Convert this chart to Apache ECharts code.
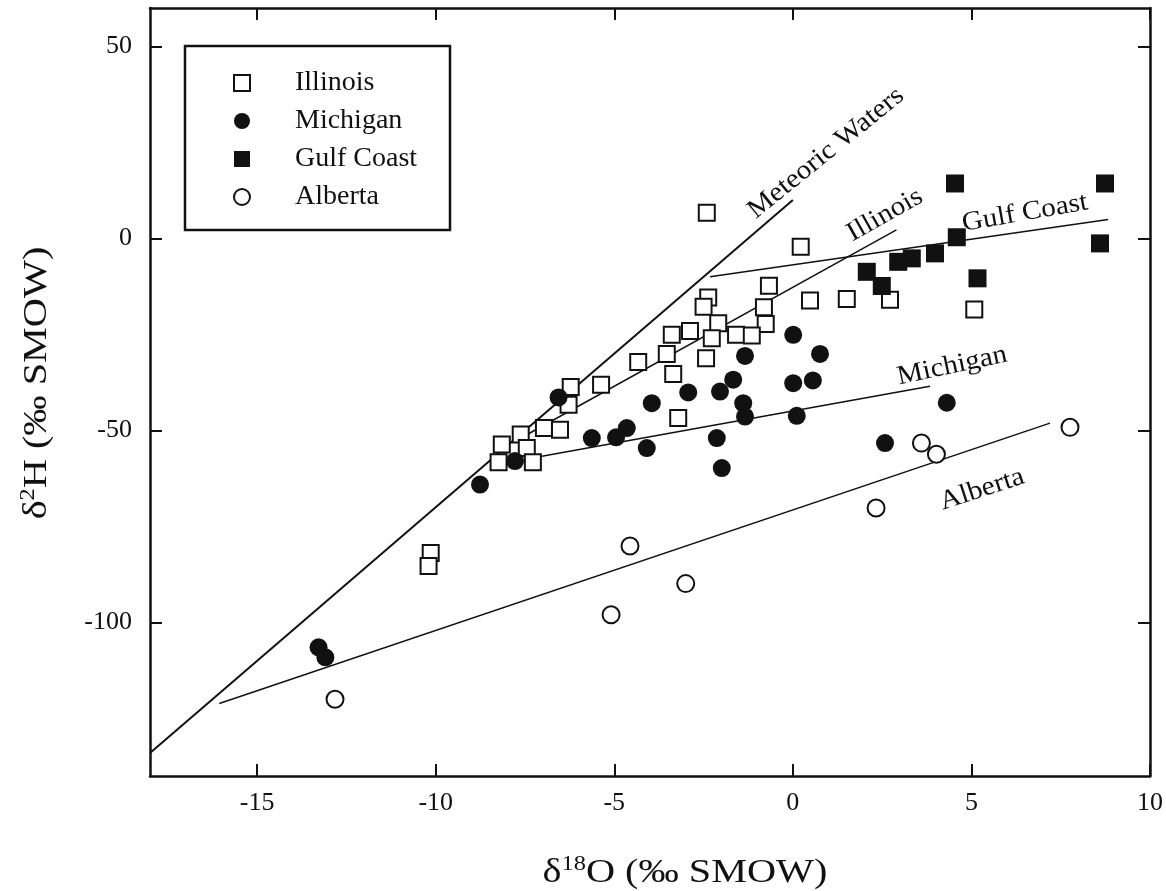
<!DOCTYPE html>
<html>
<head>
<meta charset="utf-8">
<script src="https://cdn.jsdelivr.net/npm/echarts@6/dist/echarts.min.js"></script>
<style>html,body{margin:0;padding:0;background:#fff;}#main{width:1166px;height:891px;}</style>
</head>
<body>
<div id="main"></div>
<script>
// ---- data ----
const xTicks = [-15, -10, -5, 0, 5, 10];
const yTicks = [-100, -50, 0, 50];

const illinois = [
  [-2.41, 6.7], [0.22, -2.2], [-0.67, -12.3], [-2.37, -15.4], [-2.5, -17.8],
  [0.48, -16.2], [1.51, -15.8], [2.72, -16.0], [-0.81, -17.9], [-2.09, -22.1],
  [-0.76, -22.3], [-2.88, -24.1], [-3.39, -25.1], [-2.27, -26.0], [-1.59, -25.1],
  [-1.15, -25.3], [-3.53, -30.1], [-4.33, -32.2], [-2.43, -31.2], [-3.35, -35.3],
  [-3.21, -46.8], [-5.37, -38.1], [-6.22, -38.7], [-6.28, -43.3], [-6.97, -49.4],
  [-6.52, -49.8], [-7.62, -51.1], [-8.15, -53.7], [-7.45, -54.6], [-8.24, -58.3],
  [-7.28, -58.3], [-10.14, -81.9], [-10.2, -85.3], [5.08, -18.5]
];
const michigan = [
  [0.01, -25.1], [0.76, -30.1], [-1.34, -30.6], [-1.67, -36.8], [-2.04, -39.9],
  [0.01, -37.7], [0.56, -37.0], [-2.93, -40.1], [-3.95, -42.9], [-1.39, -42.9],
  [-1.34, -46.4], [0.11, -46.2], [-2.13, -52.0], [-4.09, -54.6], [-1.99, -59.8],
  [2.58, -53.3], [4.31, -42.8], [-6.56, -41.4], [-5.63, -52.0], [-4.95, -51.8],
  [-4.65, -49.4], [-7.78, -58.0], [-8.76, -64.1], [-13.28, -106.5], [-13.09, -109.1]
];
const gulfCoast = [
  [2.07, -8.7], [2.49, -12.4], [2.95, -6.1], [3.33, -5.2], [3.98, -3.9],
  [4.59, 0.3], [4.54, 14.3], [8.74, 14.3], [8.6, -1.3], [5.17, -10.4]
];
const alberta = [
  [-12.82, -120.0], [-5.09, -98.0], [-4.56, -80.1], [-3.0, -89.9],
  [2.33, -70.2], [3.6, -53.3], [4.02, -56.2], [7.76, -49.2]
];

// regression / reference lines (end points)
const meteoricLine = [[-18, -134], [0, 10]];
const illinoisLine = [[-7.5, -51.4], [2.9, 2.2]];
const gulfLine = [[-2.32, -10.0], [8.83, 4.9]];
const michiganLine = [[-7.3, -57.2], [3.84, -38.5]];
const albertaLine = [[-16.06, -121.1], [7.2, -48.1]];

// line labels: text, anchor (data coords), angle in degrees
const lineLabels = [
  ['Meteoric Waters', [0.93, 22.2], 39],
  ['Illinois', [2.58, 6.1], 29.5],
  ['Gulf Coast', [6.5, 6.6], 10],
  ['Michigan', [4.46, -33.2], 12],
  ['Alberta', [5.3, -65.4], 18]
];

// ---- chart ----
const FONT = 'Liberation Serif';
const INK = '#111';
const chart = echarts.init(document.getElementById('main'));

function axisCommon(ticks) {
  return {
    type: 'value',
    axisLine: { show: true, onZero: false, lineStyle: { color: INK, width: 2.5 } },
    axisTick: { show: true, inside: true, length: 12, lineStyle: { color: INK, width: 2 }, customValues: ticks },
    splitLine: { show: false }
  };
}

const lineSeries = (name, data, width) => ({
  name: name, type: 'line', data: data, symbol: 'none', silent: true,
  lineStyle: { color: INK, width: width }, z: 2
});

const openStyle = { color: '#fff', borderColor: INK, borderWidth: 2, opacity: 1 };
const fillStyle = { color: INK, opacity: 1 };
const squarePath = 'path://M0,0H10V10H0Z';

chart.setOption({
  animation: false,
  backgroundColor: '#fff',
  grid: { left: 150, right: 16, top: 8, bottom: 115 },
  xAxis: [
    Object.assign(axisCommon(xTicks), {
      min: -18, max: 10, position: 'bottom',
      axisLabel: { customValues: xTicks, fontFamily: FONT, fontSize: 26, color: INK, margin: 14 }
    }),
    Object.assign(axisCommon(xTicks), {
      min: -18, max: 10, position: 'top', axisLabel: { show: false }
    })
  ],
  yAxis: [
    Object.assign(axisCommon(yTicks), {
      min: -140, max: 60, position: 'left',
      axisLabel: { customValues: yTicks, fontFamily: FONT, fontSize: 26, color: INK, margin: 18 }
    }),
    Object.assign(axisCommon(yTicks), {
      min: -140, max: 60, position: 'right', axisLabel: { show: false }
    })
  ],
  legend: {
    orient: 'vertical', left: 233, top: 69, padding: 0, z: 6,
    itemWidth: 96, itemHeight: 16, itemGap: 10, selectedMode: false,
    textStyle: { fontFamily: FONT, fontSize: 28, color: INK, lineHeight: 26 },
    data: [
      { name: 'Illinois', icon: squarePath },
      { name: 'Michigan', icon: 'circle' },
      { name: 'Gulf Coast', icon: squarePath },
      { name: 'Alberta', icon: 'circle' }
    ]
  },
  series: [
    lineSeries('Meteoric Waters line', meteoricLine, 2),
    lineSeries('Illinois line', illinoisLine, 1.5),
    lineSeries('Gulf Coast line', gulfLine, 1.5),
    lineSeries('Michigan line', michiganLine, 1.5),
    lineSeries('Alberta line', albertaLine, 1.5),
    { name: 'Illinois', type: 'scatter', data: illinois, symbol: 'rect', symbolSize: 16, itemStyle: openStyle, z: 3 },
    { name: 'Michigan', type: 'scatter', data: michigan, symbol: 'circle', symbolSize: 18, itemStyle: fillStyle, z: 3 },
    { name: 'Gulf Coast', type: 'scatter', data: gulfCoast, symbol: 'rect', symbolSize: 18, itemStyle: fillStyle, z: 3 },
    { name: 'Alberta', type: 'scatter', data: alberta, symbol: 'circle', symbolSize: 17, itemStyle: openStyle, z: 3 }
  ]
});

// ---- texts: line labels, axis titles, legend frame ----
const graphics = [];
graphics.push({
  type: 'rect', z: 5, silent: true,
  shape: { x: 185, y: 46, width: 265, height: 184 },
  style: { fill: '#fff', stroke: INK, lineWidth: 2.5 }
});
lineLabels.forEach(function (l) {
  const p = chart.convertToPixel({ gridIndex: 0 }, l[1]);
  graphics.push({
    type: 'text', z: 7, silent: true,
    x: p[0], y: p[1], rotation: l[2] * Math.PI / 180, scaleX: 1.08,
    style: { text: l[0], fontFamily: FONT, fontSize: 27, fill: INK, align: 'center', verticalAlign: 'middle' }
  });
});
const titleRich = {
  n: { fontFamily: FONT, fontSize: 33, fill: INK, lineHeight: 36 },
  s: { fontFamily: FONT, fontSize: 20, fill: INK, lineHeight: 20, verticalAlign: 'top' }
};
graphics.push({
  type: 'text', z: 7, silent: true, x: 685, y: 873, scaleX: 1.22,
  style: { text: '{n|δ}{s|18}{n|O (‰ SMOW)}', rich: titleRich, align: 'center', verticalAlign: 'middle' }
});
graphics.push({
  type: 'text', z: 7, silent: true, x: 37, y: 383, rotation: Math.PI / 2, scaleX: 1.22,
  style: { text: '{n|δ}{s|2}{n|H (‰ SMOW)}', rich: titleRich, align: 'center', verticalAlign: 'middle' }
});
chart.setOption({ graphic: graphics });
</script>
</body>
</html>
